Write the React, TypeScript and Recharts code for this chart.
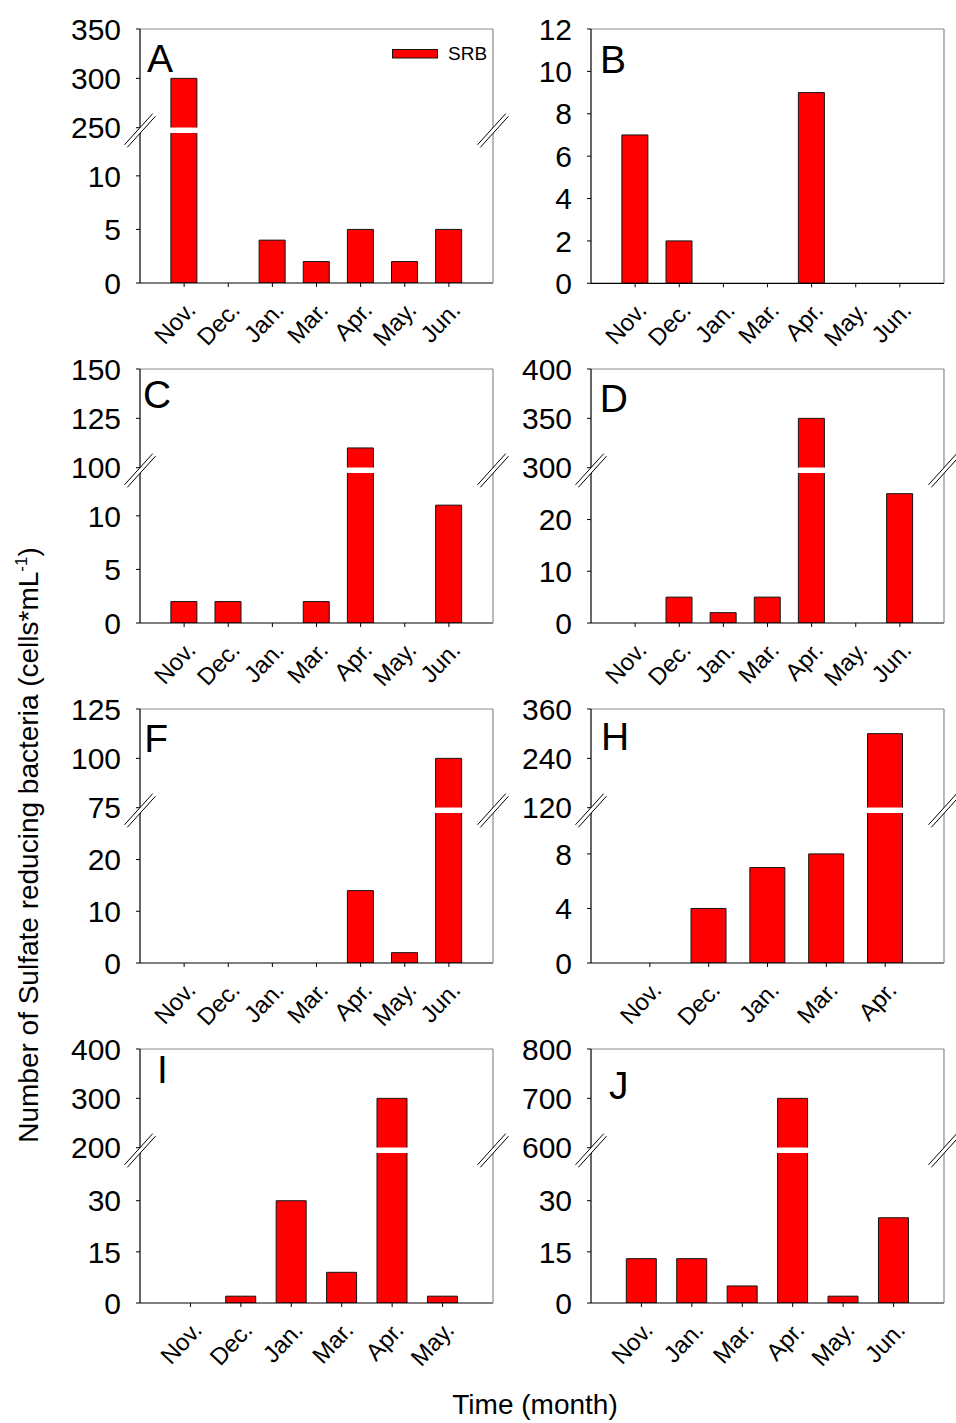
import React from 'react';
import { BarChart, Bar, XAxis, YAxis, Legend } from 'recharts';

// ---------- data ----------
const monthsA = ['Nov.', 'Dec.', 'Jan.', 'Mar.', 'Apr.', 'May.', 'Jun.'];
const monthsB = ['Nov.', 'Dec.', 'Jan.', 'Mar.', 'Apr.', 'May.', 'Jun.'];
const monthsC = ['Nov.', 'Dec.', 'Jan.', 'Mar.', 'Apr.', 'May.', 'Jun.'];
const monthsD = ['Nov.', 'Dec.', 'Jan.', 'Mar.', 'Apr.', 'May.', 'Jun.'];
const monthsF = ['Nov.', 'Dec.', 'Jan.', 'Mar.', 'Apr.', 'May.', 'Jun.'];
const monthsH = ['Nov.', 'Dec.', 'Jan.', 'Mar.', 'Apr.'];
const monthsI = ['Nov.', 'Dec.', 'Jan.', 'Mar.', 'Apr.', 'May.'];
const monthsJ = ['Nov.', 'Jan.', 'Mar.', 'Apr.', 'May.', 'Jun.'];

const srbA = [300, 0, 4, 2, 5, 2, 5];
const srbB = [7, 2, 0, 0, 9, 0, 0];
const srbC = [2, 2, 0, 2, 110, 0, 11];
const srbD = [0, 5, 2, 5, 350, 0, 25];
const srbF = [0, 0, 0, 0, 14, 2, 100];
const srbH = [0, 4, 7, 8, 300];
const srbI = [0, 2, 30, 9, 300, 2];
const srbJ = [13, 13, 5, 700, 2, 25];

const lowerTicksA = [0, 5, 10];
const upperTicksA = [250, 300, 350];
const ticksB = [0, 2, 4, 6, 8, 10, 12];
const lowerTicksC = [0, 5, 10];
const upperTicksC = [100, 125, 150];
const lowerTicksD = [0, 10, 20];
const upperTicksD = [300, 350, 400];
const lowerTicksF = [0, 10, 20];
const upperTicksF = [75, 100, 125];
const lowerTicksH = [0, 4, 8];
const upperTicksH = [120, 240, 360];
const lowerTicksI = [0, 15, 30];
const upperTicksI = [200, 300, 400];
const lowerTicksJ = [0, 15, 30];
const upperTicksJ = [600, 700, 800];

const seriesName = 'SRB';
const yTitle = 'Number of Sulfate reducing bacteria (cells*mL';
const xTitle = 'Time (month)';

// ---------- layout / style ----------
const FONT = '"Liberation Sans", Arial, Helvetica, sans-serif';
const RED = '#ff0000';
const EDGE = '#141414';
const GRAY = '#8a8a8a';
const COL_X = [140, 591];
const ROW_Y = [29, 369, 709, 1049];
const PLOT_W = 353;
const UPPER_H = 98.7;
const GAP = 5.6;
const LOWER_H = 150;
const YW = 100;
const MR = 12;
const MT = 20;

type Panel = {
  letter: string;
  months: string[];
  values: number[];
  lowerMax: number;
  lowerTicks: number[];
  upperDomain?: [number, number];
  upperTicks?: number[];
  col: number;
  row: number;
  ldx: number;
  ldy: number;
  legend?: boolean;
};

const panels: Panel[] = [
  { letter: 'A', months: monthsA, values: srbA, lowerMax: 14, lowerTicks: lowerTicksA, upperDomain: [250, 350], upperTicks: upperTicksA, col: 0, row: 0, ldx: 7, ldy: 42.7, legend: true },
  { letter: 'B', months: monthsB, values: srbB, lowerMax: 12, lowerTicks: ticksB, col: 1, row: 0, ldx: 9, ldy: 44.3 },
  { letter: 'C', months: monthsC, values: srbC, lowerMax: 14, lowerTicks: lowerTicksC, upperDomain: [100, 150], upperTicks: upperTicksC, col: 0, row: 1, ldx: 3, ldy: 38.5 },
  { letter: 'D', months: monthsD, values: srbD, lowerMax: 29, lowerTicks: lowerTicksD, upperDomain: [300, 400], upperTicks: upperTicksD, col: 1, row: 1, ldx: 8.7, ldy: 42.7 },
  { letter: 'F', months: monthsF, values: srbF, lowerMax: 29, lowerTicks: lowerTicksF, upperDomain: [75, 125], upperTicks: upperTicksF, col: 0, row: 2, ldx: 4.3, ldy: 42.7 },
  { letter: 'H', months: monthsH, values: srbH, lowerMax: 11, lowerTicks: lowerTicksH, upperDomain: [120, 360], upperTicks: upperTicksH, col: 1, row: 2, ldx: 10, ldy: 41 },
  { letter: 'I', months: monthsI, values: srbI, lowerMax: 44, lowerTicks: lowerTicksI, upperDomain: [200, 400], upperTicks: upperTicksI, col: 0, row: 3, ldx: 17, ldy: 34.3 },
  { letter: 'J', months: monthsJ, values: srbJ, lowerMax: 44, lowerTicks: lowerTicksJ, upperDomain: [600, 800], upperTicks: upperTicksJ, col: 1, row: 3, ldx: 18, ldy: 49.5 },
];

const yTickStyle = { fill: '#000', fontSize: 30, fontFamily: FONT };

function makeBarShape(kind: 'upper' | 'lower', lowerMax: number) {
  return (props: any) => {
    const { x, y, width, height, payload } = props;
    if (x == null || y == null || !width || !height || Math.abs(height) < 0.01) return <g />;
    const t = Math.min(y, y + height);
    const b = Math.max(y, y + height);
    const l = x;
    const r = x + width;
    const openTop = kind === 'lower' && payload && payload.v > lowerMax;
    const openBottom = kind === 'upper';
    return (
      <g>
        <rect x={l} y={t} width={width} height={b - t} fill={RED} />
        <line x1={l} y1={t} x2={l} y2={b} stroke={EDGE} strokeWidth={1} />
        <line x1={r} y1={t} x2={r} y2={b} stroke={EDGE} strokeWidth={1} />
        {!openTop && <line x1={l} y1={t} x2={r} y2={t} stroke={EDGE} strokeWidth={1} />}
        {!openBottom && <line x1={l} y1={b} x2={r} y2={b} stroke={EDGE} strokeWidth={1} />}
      </g>
    );
  };
}

const XTick = (props: any) => {
  const { x, y, payload } = props;
  const ax = x + 13;
  const ay = y + 22;
  return (
    <text
      x={ax}
      y={ay}
      transform={`rotate(-47 ${ax} ${ay})`}
      textAnchor="end"
      fontSize={24}
      fontFamily={FONT}
      fill="#000"
    >
      {payload.value}
    </text>
  );
};

const LegendContent = (props: any) => {
  const item = (props.payload && props.payload[0]) || { value: seriesName, color: RED };
  return (
    <div style={{ display: 'flex', alignItems: 'center', fontFamily: FONT }}>
      <svg width={47} height={11} style={{ display: 'block' }}>
        <rect x={0.5} y={0.5} width={45} height={8.5} fill={RED} stroke={EDGE} strokeWidth={1} />
      </svg>
      <span style={{ marginLeft: 9, fontSize: 19, color: '#000', lineHeight: '22px' }}>{item.value}</span>
    </div>
  );
};

function PanelView({ p }: { p: Panel }) {
  const data = p.months.map((m, i) => ({ m, v: p.values[i] }));
  const n = p.months.length;
  const pad = PLOT_W / (2 * (n + 1));
  const left = COL_X[p.col] - YW;
  const top = ROW_Y[p.row];
  const chartW = YW + PLOT_W + 1 + MR;
  const hasBreak = !!p.upperDomain;
  const lowerTop = hasBreak ? top + UPPER_H + GAP : top;
  const lowerH = hasBreak ? LOWER_H : UPPER_H + GAP + LOWER_H;
  const XH = 80;
  const upperMin = p.upperDomain ? p.upperDomain[0] : 0;

  const topAxis = (
    <XAxis
      xAxisId="top"
      orientation="top"
      dataKey="m"
      height={1}
      tick={false}
      tickLine={false}
      axisLine={{ stroke: GRAY, strokeWidth: 1.2 }}
      padding={{ left: pad, right: pad }}
    />
  );
  const rightAxis = (
    <YAxis
      yAxisId="r"
      orientation="right"
      domain={[0, 1]}
      width={1}
      tick={false}
      tickLine={false}
      axisLine={{ stroke: GRAY, strokeWidth: 1.2 }}
    />
  );

  return (
    <>
      {hasBreak && (
        <div style={{ position: 'absolute', left, top: top - MT }}>
          <BarChart
            width={chartW}
            height={MT + UPPER_H + 24}
            data={data}
            margin={{ top: MT - 1, right: MR, bottom: 24, left: 0 }}
            barCategoryGap="20%"
          >
            <XAxis dataKey="m" hide padding={{ left: pad, right: pad }} />
            {topAxis}
            <YAxis
              type="number"
              domain={p.upperDomain}
              ticks={p.upperTicks}
              interval={0}
              allowDataOverflow
              width={YW}
              tick={yTickStyle}
              tickSize={4}
              tickMargin={15}
              stroke="#000"
              axisLine={{ stroke: '#000', strokeWidth: 1.2 }}
              tickLine={{ stroke: '#000' }}
            />
            {rightAxis}
            {p.legend && (
              <Legend
                layout="vertical"
                align="center"
                verticalAlign="middle"
                content={<LegendContent />}
                wrapperStyle={{ left: 352, top: 34, width: 110, height: 22 }}
              />
            )}
            <Bar
              name={seriesName}
              dataKey={(d: any) => (d.v >= upperMin ? d.v : null)}
              fill={RED}
              isAnimationActive={false}
              shape={makeBarShape('upper', p.lowerMax)}
            />
          </BarChart>
        </div>
      )}
      <div style={{ position: 'absolute', left, top: lowerTop - MT }}>
        <BarChart
          width={chartW}
          height={MT + lowerH + XH}
          data={data}
          margin={{ top: hasBreak ? MT : MT - 1, right: MR, bottom: 0, left: 0 }}
          barCategoryGap="20%"
        >
          <XAxis
            dataKey="m"
            height={XH}
            interval={0}
            padding={{ left: pad, right: pad }}
            tick={<XTick />}
            tickSize={4}
            tickMargin={2}
            stroke="#000"
            axisLine={{ stroke: '#000', strokeWidth: 1.2 }}
            tickLine={{ stroke: '#000' }}
          />
          {!hasBreak && topAxis}
          <YAxis
            type="number"
            domain={[0, p.lowerMax]}
            ticks={p.lowerTicks}
            interval={0}
            allowDataOverflow
            width={YW}
            tick={yTickStyle}
            tickSize={4}
            tickMargin={15}
            stroke="#000"
            axisLine={{ stroke: '#000', strokeWidth: 1.2 }}
            tickLine={{ stroke: '#000' }}
          />
          {rightAxis}
          <Bar
            name={seriesName}
            dataKey={(d: any) => Math.min(d.v, p.lowerMax)}
            fill={RED}
            isAnimationActive={false}
            shape={makeBarShape('lower', p.lowerMax)}
          />
        </BarChart>
      </div>
    </>
  );
}

function BreakMark({ x, y, color }: { x: number; y: number; color: string }) {
  const ux = 0.671, uy = -0.742;
  const nx = 0.742, ny = 0.671;
  const h = 21;
  const o = 1.9;
  const p = (s: number, t: number) => `${x + ux * s + nx * t},${y + uy * s + ny * t}`;
  return (
    <g>
      <line x1={x} y1={y - GAP / 2 - 0.6} x2={x} y2={y + GAP / 2 + 0.6} stroke={color} strokeWidth={1.2} />
      <polygon points={`${p(-h, -o)} ${p(h, -o)} ${p(h, o)} ${p(-h, o)}`} fill="#fff" />
      <line x1={x + ux * -h + nx * -o} y1={y + uy * -h + ny * -o} x2={x + ux * h + nx * -o} y2={y + uy * h + ny * -o} stroke="#000" strokeWidth={1} />
      <line x1={x + ux * -h + nx * o} y1={y + uy * -h + ny * o} x2={x + ux * h + nx * o} y2={y + uy * h + ny * o} stroke="#000" strokeWidth={1} />
    </g>
  );
}

export default function App() {
  return (
    <div style={{ position: 'absolute', left: 0, top: 0, width: 956, height: 1423, background: '#fff', fontFamily: FONT }}>
      {panels.map((p) => (
        <PanelView key={p.letter} p={p} />
      ))}
      <svg width={956} height={1423} style={{ position: 'absolute', left: 0, top: 0, pointerEvents: 'none' }}>
        {panels
          .filter((p) => p.upperDomain)
          .map((p) => {
            const x0 = COL_X[p.col];
            const yc = ROW_Y[p.row] + UPPER_H + GAP / 2;
            return (
              <g key={p.letter}>
                <BreakMark x={x0} y={yc} color="#000" />
                <BreakMark x={x0 + PLOT_W} y={yc} color={GRAY} />
              </g>
            );
          })}
        {panels.map((p) => (
          <text key={p.letter} x={COL_X[p.col] + p.ldx} y={ROW_Y[p.row] + p.ldy} fontSize={39} fontFamily={FONT} fill="#000">
            {p.letter}
          </text>
        ))}
        <text x={535} y={1414} textAnchor="middle" fontSize={28} fontFamily={FONT} fill="#000">
          {xTitle}
        </text>
        <text transform="translate(38 845) rotate(-90)" textAnchor="middle" fontSize={28} fontFamily={FONT} fill="#000">
          {yTitle}
          <tspan fontSize={17} dy={-11}>-1</tspan>
          <tspan dy={11}>)</tspan>
        </text>
      </svg>
    </div>
  );
}
